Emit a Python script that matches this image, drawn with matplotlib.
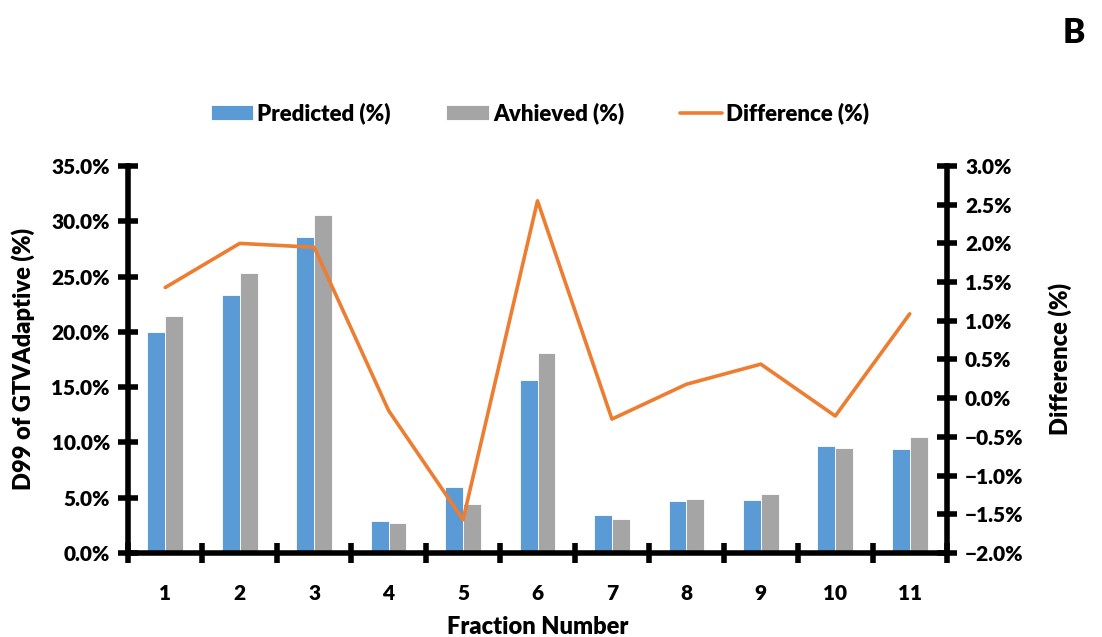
import numpy as np
import matplotlib
matplotlib.use('Agg')
import matplotlib.pyplot as plt
from matplotlib.ticker import PercentFormatter, FixedLocator

plt.rcParams['font.family'] = ['Lato', 'DejaVu Sans']
plt.rcParams['font.weight'] = 'heavy'

fractions = ['1', '2', '3', '4', '5', '6', '7', '8', '9', '10', '11']
predicted = [20.0, 23.3, 28.6, 2.9, 6.0, 15.6, 3.4, 4.7, 4.8, 9.7, 9.4]
achieved = [21.4, 25.3, 30.6, 2.75, 4.4, 18.1, 3.1, 4.9, 5.3, 9.5, 10.5]
difference = [1.43, 2.0, 1.95, -0.16, -1.57, 2.55, -0.27, 0.18, 0.44, -0.23, 1.09]

blue = '#5B9BD5'
gray = '#A5A5A5'
orange = '#ED7D31'
fw = 'heavy'

fig = plt.figure(figsize=(11.02, 6.37), dpi=100)
ax = fig.add_axes([0.1162, 0.1319, 0.7431, 0.6075])
ax2 = ax.twinx()

x = np.arange(len(fractions))
w = 0.24
b1 = ax.bar(x - w/2, predicted, w, color=blue, edgecolor='white', linewidth=0.6, label='Predicted (%)', zorder=2)
b2 = ax.bar(x + w/2, achieved, w, color=gray, edgecolor='white', linewidth=0.6, label='Avhieved (%)', zorder=2)
l1, = ax2.plot(x, difference, color=orange, lw=2.6, label='Difference (%)', solid_capstyle='round')

ax.set_xlim(-0.5, len(fractions) - 0.5)
ax.set_ylim(0, 35)
ax2.set_ylim(-2.0, 3.0)

ax.set_yticks(np.arange(0, 35.1, 5))
ax.yaxis.set_major_formatter(PercentFormatter(decimals=1))
ax2.set_yticks(np.arange(-2.0, 3.01, 0.5))
ax2.yaxis.set_major_formatter(PercentFormatter(decimals=1))

# ticks at category boundaries, labels at centers
ax.xaxis.set_major_locator(FixedLocator(np.arange(-0.5, len(fractions), 1.0)))
ax.set_xticklabels([])
ax.set_xticks(x, minor=True)
ax.set_xticklabels(fractions, minor=True)
ax.tick_params(axis='x', which='minor', length=0, pad=22, labelsize=15)
ax.tick_params(axis='x', which='major', direction='inout', length=14, width=4)
ax.tick_params(axis='y', direction='inout', length=14, width=4, labelsize=15, pad=6)
ax2.tick_params(axis='y', direction='inout', length=14, width=4, labelsize=15, pad=6)
for lab in ax.get_xticklabels(minor=True) + ax.get_yticklabels() + ax2.get_yticklabels():
    lab.set_fontweight(fw)

for a in (ax, ax2):
    for s in a.spines.values():
        s.set_visible(False)
for side in ('left', 'bottom'):
    ax.spines[side].set_visible(True)
    ax.spines[side].set_linewidth(4)
ax2.spines['right'].set_visible(True)
ax2.spines['right'].set_linewidth(4)

ax.set_xlabel('Fraction Number', fontsize=17, fontweight=fw, labelpad=10)
ax.set_ylabel('D99 of GTVAdaptive (%)', fontsize=17, fontweight=fw, labelpad=12)
ax2.set_ylabel('Difference (%)', fontsize=17, fontweight=fw, rotation=90, labelpad=18)

fig.legend(handles=[b1, b2, l1], loc='center', bbox_to_anchor=(0.49, 0.822), ncol=3,
           frameon=False, prop={'size': 16, 'weight': fw}, handlelength=1.9, handleheight=0.65,
           columnspacing=2.5, handletextpad=0.2)

fig.text(0.985, 0.948, 'B', fontsize=24, fontweight=fw, ha='right', va='center')

fig.savefig('out.png', dpi=100)
